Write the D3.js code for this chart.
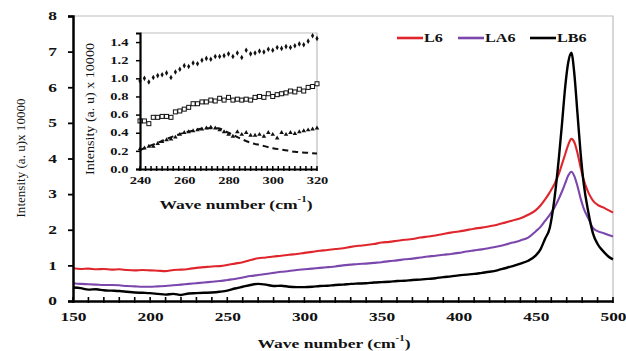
<!DOCTYPE html>
<html>
<head>
<meta charset="utf-8">
<script src="https://cdn.jsdelivr.net/npm/d3@7"></script>
<style>
  body { margin: 0; background: #fff; }
  text { font-family: "Liberation Serif", "Times New Roman", serif; fill: #111; }
</style>
</head>
<body>
<svg id="chart" width="626" height="351"></svg>
<script>
// main spectrum, wave number (cm-1)
const waveNumbers = [
  150,155,160,165,170,175,180,185,190,195,
  200,205,210,215,220,225,230,235,240,245,
  250,255,260,265,270,275,280,285,290,295,
  300,305,310,315,320,325,330,335,340,345,
  350,355,360,365,370,375,380,385,390,395,
  400,405,410,415,420,425,430,435,440,445,
  450,
  453,456,459,462,465,467,469,471,473,475,
  477,479,481,484,487,490,494,497,500
];
const l6 = [
  0.92,0.90,0.91,0.89,0.90,0.88,0.89,0.87,0.86,0.87,
  0.86,0.85,0.84,0.87,0.88,0.90,0.93,0.95,0.97,0.98,
  1.01,1.05,1.09,1.15,1.20,1.22,1.25,1.27,1.30,1.32,
  1.35,1.38,1.41,1.43,1.46,1.48,1.52,1.55,1.57,1.60,
  1.64,1.66,1.69,1.72,1.74,1.78,1.81,1.84,1.88,1.92,
  1.95,1.99,2.03,2.06,2.10,2.14,2.20,2.26,2.32,2.42,
  2.55,
  2.68,2.85,3.05,3.28,3.58,3.85,4.12,4.38,4.55,4.45,
  4.15,3.75,3.40,3.05,2.82,2.70,2.62,2.55,2.48
];
const la6 = [
  0.50,0.48,0.47,0.46,0.45,0.45,0.44,0.42,0.41,0.40,
  0.40,0.41,0.42,0.44,0.46,0.48,0.50,0.52,0.54,0.56,
  0.59,0.62,0.66,0.70,0.73,0.76,0.79,0.82,0.84,0.87,
  0.89,0.91,0.93,0.95,0.97,1.00,1.02,1.04,1.05,1.07,
  1.09,1.12,1.14,1.17,1.19,1.22,1.25,1.27,1.30,1.32,
  1.35,1.39,1.42,1.45,1.49,1.53,1.58,1.64,1.70,1.78,
  1.96,
  2.08,2.25,2.42,2.62,2.88,3.08,3.30,3.52,3.63,3.50,
  3.22,2.88,2.60,2.32,2.05,1.96,1.90,1.85,1.81
];
const lb6 = [
  0.38,0.36,0.32,0.33,0.30,0.29,0.28,0.26,0.24,0.23,
  0.22,0.20,0.18,0.20,0.17,0.21,0.22,0.23,0.24,0.26,
  0.29,0.35,0.40,0.45,0.48,0.46,0.42,0.43,0.40,0.39,
  0.39,0.40,0.42,0.43,0.45,0.46,0.48,0.49,0.50,0.52,
  0.53,0.54,0.56,0.57,0.59,0.60,0.62,0.64,0.67,0.69,
  0.72,0.74,0.76,0.79,0.82,0.86,0.92,0.98,1.05,1.13,
  1.28,
  1.45,1.75,2.05,2.85,4.05,5.00,6.00,6.70,6.97,6.35,
  5.25,4.15,3.30,2.50,1.90,1.60,1.38,1.25,1.17
];
const seriesNames = ["L6", "LA6", "LB6"];
const seriesColors = ["#e0262d", "#7b47ad", "#000000"];
const yTicks = [0, 1, 2, 3, 4, 5, 6, 7, 8];
const xTicks = [150, 200, 250, 300, 350, 400, 450, 500];

// inset (zoom on 240-320)
const insetWave = [
  240,242,244,246,248,250,252,254,256,258,
  260,262,264,266,268,270,272,274,276,278,
  280,282,284,286,288,290,292,294,296,298,
  300,302,304,306,308,310,312,314,316,318,320
];
const insetTop = [
  0.97,1.00,0.96,1.01,1.03,1.04,1.06,1.01,1.07,1.10,
  1.14,1.13,1.17,1.16,1.20,1.22,1.21,1.24,1.24,1.25,
  1.27,1.24,1.28,1.23,1.31,1.27,1.28,1.30,1.29,1.32,
  1.31,1.34,1.33,1.35,1.34,1.36,1.38,1.37,1.41,1.47,1.44
];
const insetMid = [
  0.53,0.53,0.50,0.57,0.57,0.58,0.58,0.57,0.63,0.64,
  0.66,0.68,0.72,0.72,0.74,0.74,0.76,0.75,0.78,0.76,
  0.79,0.76,0.77,0.76,0.77,0.76,0.79,0.80,0.79,0.83,
  0.80,0.82,0.83,0.84,0.86,0.85,0.88,0.86,0.90,0.91,0.94
];
const insetLow = [
  0.22,0.23,0.25,0.25,0.28,0.30,0.32,0.33,0.35,0.38,
  0.40,0.41,0.42,0.43,0.44,0.45,0.46,0.45,0.43,0.41,
  0.38,0.36,0.41,0.38,0.40,0.37,0.37,0.38,0.36,0.40,
  0.38,0.34,0.40,0.38,0.40,0.39,0.41,0.42,0.43,0.44,0.45
];
const fitWave = [240,245,250,255,260,265,270,275,280,285,290,295,300,305,310,315,320];
const fitValues = [0.21,0.26,0.31,0.36,0.40,0.43,0.45,0.45,0.40,0.34,0.29,0.26,0.23,0.21,0.19,0.18,0.17];
const insetYTicks = [0, 0.2, 0.4, 0.6, 0.8, 1.0, 1.2, 1.4];
const insetXTicks = [240, 260, 280, 300, 320];

const stretch = 1.45;
const svg = d3.select("#chart");

// main plot
const plot = { left: 73, right: 613, top: 16, bottom: 301 };
const x = d3.scaleLinear().domain([150, 500]).range([plot.left, plot.right]);
const y = d3.scaleLinear().domain([0, 8]).range([plot.bottom, plot.top]);

// frame (top + right)
svg.append("path")
  .attr("d", `M${plot.left},${plot.top}H${plot.right}V${plot.bottom}`)
  .attr("fill", "none").attr("stroke", "#bdbdbd").attr("stroke-width", 1.2);

// series
const line = d3.line()
  .x((d, i) => x(waveNumbers[i]))
  .y(d => y(d))
  .curve(d3.curveMonotoneX);

[l6, la6, lb6].forEach((vals, k) => {
  svg.append("path")
    .datum(vals)
    .attr("d", line)
    .attr("fill", "none")
    .attr("stroke", seriesColors[k])
    .attr("stroke-width", k == 2 ? 2.4 : 2.1)
    .attr("stroke-linejoin", "round");
});

// minor ticks on x
svg.append("g").selectAll("line")
  .data(d3.range(150, 501, 10))
  .enter().append("line")
  .attr("x1", d => x(d)).attr("x2", d => x(d))
  .attr("y1", plot.bottom - 4).attr("y2", plot.bottom + 2)
  .attr("stroke", "#000").attr("stroke-width", 1.6);

// axes
const xAxis = d3.axisBottom(x).tickValues(xTicks).tickSize(0).tickPadding(9);
const yAxis = d3.axisLeft(y).tickValues(yTicks).tickSize(5).tickPadding(6).tickFormat(d3.format("d"));

const gx = svg.append("g")
  .attr("transform", "translate(0," + plot.bottom + ")")
  .call(xAxis);
const gy = svg.append("g")
  .attr("transform", "translate(" + plot.left + ",0)")
  .call(yAxis);

[gx, gy].forEach(g => {
  g.select(".domain").attr("stroke", "#000").attr("stroke-width", 2.5);
  g.selectAll(".tick line").attr("stroke", "#000").attr("stroke-width", 1.8);
  g.selectAll(".tick text")
    .attr("font-family", "Liberation Serif")
    .attr("font-weight", "bold")
    .attr("font-size", 12)
    .attr("fill", "#111")
    .attr("transform", `scale(${stretch},1)`);
});
gx.selectAll(".tick text").attr("dy", "0.9em");

// titles
function boldTitle(parent, cx, cy, size) {
  const t = parent.append("text")
    .attr("transform", `translate(${cx},${cy}) scale(1.35,1)`)
    .attr("text-anchor", "middle")
    .attr("dominant-baseline", "central")
    .attr("font-weight", "bold")
    .attr("font-size", size);
  t.append("tspan").text("Wave number (cm");
  t.append("tspan").attr("font-size", size * 0.62).attr("dy", -5).text("-1");
  t.append("tspan").attr("dy", 5).text(")");
  return t;
}
boldTitle(svg, 334, 343, 13);

svg.append("text")
  .attr("transform", "translate(20,158) rotate(-90)")
  .attr("text-anchor", "middle")
  .attr("dominant-baseline", "central")
  .attr("font-size", 13)
  .attr("textLength", 119)
  .attr("lengthAdjust", "spacingAndGlyphs")
  .text("Intensity (a. u)x 10000");

// legend
const legendX = [397, 458, 530];
seriesNames.forEach((name, k) => {
  svg.append("line")
    .attr("x1", legendX[k]).attr("x2", legendX[k] + 26)
    .attr("y1", 38).attr("y2", 38)
    .attr("stroke", seriesColors[k]).attr("stroke-width", 2.6);
  svg.append("text")
    .attr("transform", `translate(${legendX[k] + 27},38) scale(1.35,1)`)
    .attr("dominant-baseline", "central")
    .attr("font-weight", "bold")
    .attr("font-size", 12)
    .text(name);
});

// inset
const ins = { left: 140, right: 317, top: 33, bottom: 169 };
const ix = d3.scaleLinear().domain([240, 320]).range([ins.left, ins.right]);
const iy = d3.scaleLinear().domain([0, 1.5]).range([ins.bottom, ins.top]);
const inset = svg.append("g");

inset.append("rect")
  .attr("x", ins.left).attr("y", ins.top)
  .attr("width", ins.right - ins.left).attr("height", ins.bottom - ins.top)
  .attr("fill", "#fff");
inset.append("path")
  .attr("d", `M${ins.left},${ins.top}H${ins.right}V${ins.bottom}`)
  .attr("fill", "none").attr("stroke", "#bdbdbd").attr("stroke-width", 1.2);

// fitted dashed curve
inset.append("path")
  .datum(fitValues)
  .attr("d", d3.line().x((d, i) => ix(fitWave[i])).y(d => iy(d)).curve(d3.curveMonotoneX))
  .attr("fill", "none").attr("stroke", "#111").attr("stroke-width", 2)
  .attr("stroke-dasharray", "6,4");

// markers
inset.append("g").selectAll("path")
  .data(insetTop).enter().append("path")
  .attr("d", d3.symbol().type(d3.symbolDiamond).size(9))
  .attr("transform", (d, i) => `translate(${ix(insetWave[i])},${iy(d)})`)
  .attr("fill", "#111");
inset.append("g").selectAll("rect")
  .data(insetMid).enter().append("rect")
  .attr("x", (d, i) => ix(insetWave[i]) - 2)
  .attr("y", d => iy(d) - 2)
  .attr("width", 4).attr("height", 4)
  .attr("fill", "#fff").attr("stroke", "#111").attr("stroke-width", 1);
inset.append("g").selectAll("path")
  .data(insetLow).enter().append("path")
  .attr("d", d3.symbol().type(d3.symbolTriangle).size(9))
  .attr("transform", (d, i) => `translate(${ix(insetWave[i])},${iy(d)})`)
  .attr("fill", "#111");

// inset ticks on x
inset.append("g").selectAll("line")
  .data(d3.range(240, 320.1, 2.5))
  .enter().append("line")
  .attr("x1", d => ix(d)).attr("x2", d => ix(d))
  .attr("y1", ins.bottom - 3).attr("y2", ins.bottom + 2)
  .attr("stroke", "#000").attr("stroke-width", 1.5);

const igx = inset.append("g")
  .attr("transform", "translate(0," + ins.bottom + ")")
  .call(d3.axisBottom(ix).tickValues(insetXTicks).tickSize(0).tickPadding(7));
const igy = inset.append("g")
  .attr("transform", "translate(" + ins.left + ",0)")
  .call(d3.axisLeft(iy).tickValues(insetYTicks).tickSize(4).tickPadding(4).tickFormat(d3.format(".1f")));

[igx, igy].forEach(g => {
  g.select(".domain").attr("stroke", "#000").attr("stroke-width", 2.2);
  g.selectAll(".tick line").attr("stroke", "#000").attr("stroke-width", 1.5);
  g.selectAll(".tick text")
    .attr("font-family", "Liberation Serif")
    .attr("font-weight", "bold")
    .attr("font-size", 10)
    .attr("fill", "#111")
    .attr("transform", `scale(${stretch},1)`);
});
igx.selectAll(".tick text").attr("dy", "0.8em");

boldTitle(inset, 236, 204, 13);

inset.append("text")
  .attr("transform", "translate(89,109) rotate(-90)")
  .attr("text-anchor", "middle")
  .attr("dominant-baseline", "central")
  .attr("font-size", 13)
  .attr("textLength", 132)
  .attr("lengthAdjust", "spacingAndGlyphs")
  .text("Intensity (a. u) x 10000");
</script>
</body>
</html>
